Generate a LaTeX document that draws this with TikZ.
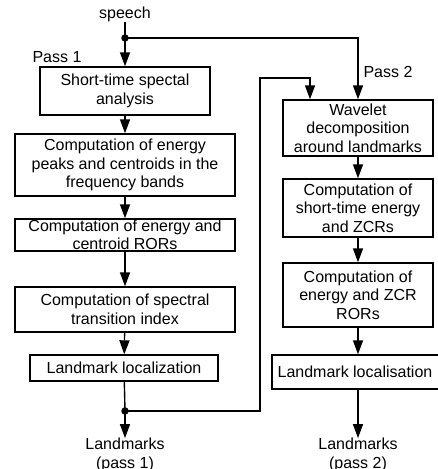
\documentclass[tikz,border=0pt]{standalone}
\usepackage{fontspec}
\setmainfont{Liberation Sans}
\usetikzlibrary{arrows.meta}
\begin{document}
\begin{tikzpicture}[x=1pt,y=-1pt,
  every node/.style={font=\fontsize{16}{18.5}\selectfont, inner sep=0pt},
  stepbox/.style={draw, line width=1.4pt, align=center},
  lbl/.style={align=center},
  conn/.style={line width=1.4pt},
  arr/.style={conn, -{Triangle[width=10pt,length=14pt]}},
  jdot/.style={circle, fill=black, minimum size=7.5pt, inner sep=0pt}]
\useasboundingbox (0,0) rectangle (438,469);
% nodes
\node[lbl] (speech) at (125,14) {speech};
\node[jdot] (d1) at (125,38) {};
\node[lbl] (p1) at (57,57) {Pass 1};
\node[lbl] (p2) at (388,72) {Pass 2};
\node[stepbox, minimum width=170pt, minimum height=48pt] (b1) at (125,91) {Short-time spectal\\analysis};
\node[stepbox, minimum width=220pt, minimum height=62pt] (b2) at (125,165) {Computation of energy\\peaks and centroids in the\\frequency bands};
\node[stepbox, minimum width=220pt, minimum height=32pt] (b3) at (125,235) {Computation of energy and\\centroid RORs};
\node[stepbox, minimum width=220pt, minimum height=45pt] (b4) at (125,309.5) {Computation of spectral\\transition index};
\node[stepbox, minimum width=188pt, minimum height=26pt] (b5) at (124,368) {Landmark localization};
\node[jdot] (d2) at (125,411) {};
\node[lbl] (o1) at (125,455) {Landmarks\\(pass 1)};
\node[stepbox, minimum width=150pt, minimum height=56pt] (r1) at (358,128) {Wavelet\\decomposition\\around landmarks};
\node[stepbox, minimum width=150pt, minimum height=58pt] (r2) at (358,208) {Computation of\\short-time energy\\and ZCRs};
\node[stepbox, minimum width=150pt, minimum height=64pt] (r3) at (358,295) {Computation of\\energy and ZCR\\RORs};
\node[stepbox, minimum width=172pt, minimum height=34pt] (r4) at (358,372) {\hspace*{-6pt}Landmark localisation};
\node[lbl] (o2) at (358,455) {Landmarks\\(pass 2)};
\coordinate (k) at (260,78);
% connectors
\draw[conn] (speech.south) -- (d1.center);
\draw[arr] (d1.center) -- (b1.north);
\draw[arr] (d1.center) -| (r1.north);
\draw[arr] (b1) -- (b2);
\draw[arr] (b2) -- (b3);
\draw[arr] (b3) -- (b4);
\draw[arr] (b4) -- (b5);
\draw[conn] (b5) -- (d2.center);
\draw[arr] (d2.center) -- (o1.north);
\draw[arr] (d2.center) -| (k) -| ([xshift=-48pt]r1.north);
\draw[arr] (r1) -- (r2);
\draw[arr] (r2) -- (r3);
\draw[arr] (r3) -- (r3 |- r4.north);
\draw[arr] (r4) -- (o2.north);
\end{tikzpicture}
\end{document}
